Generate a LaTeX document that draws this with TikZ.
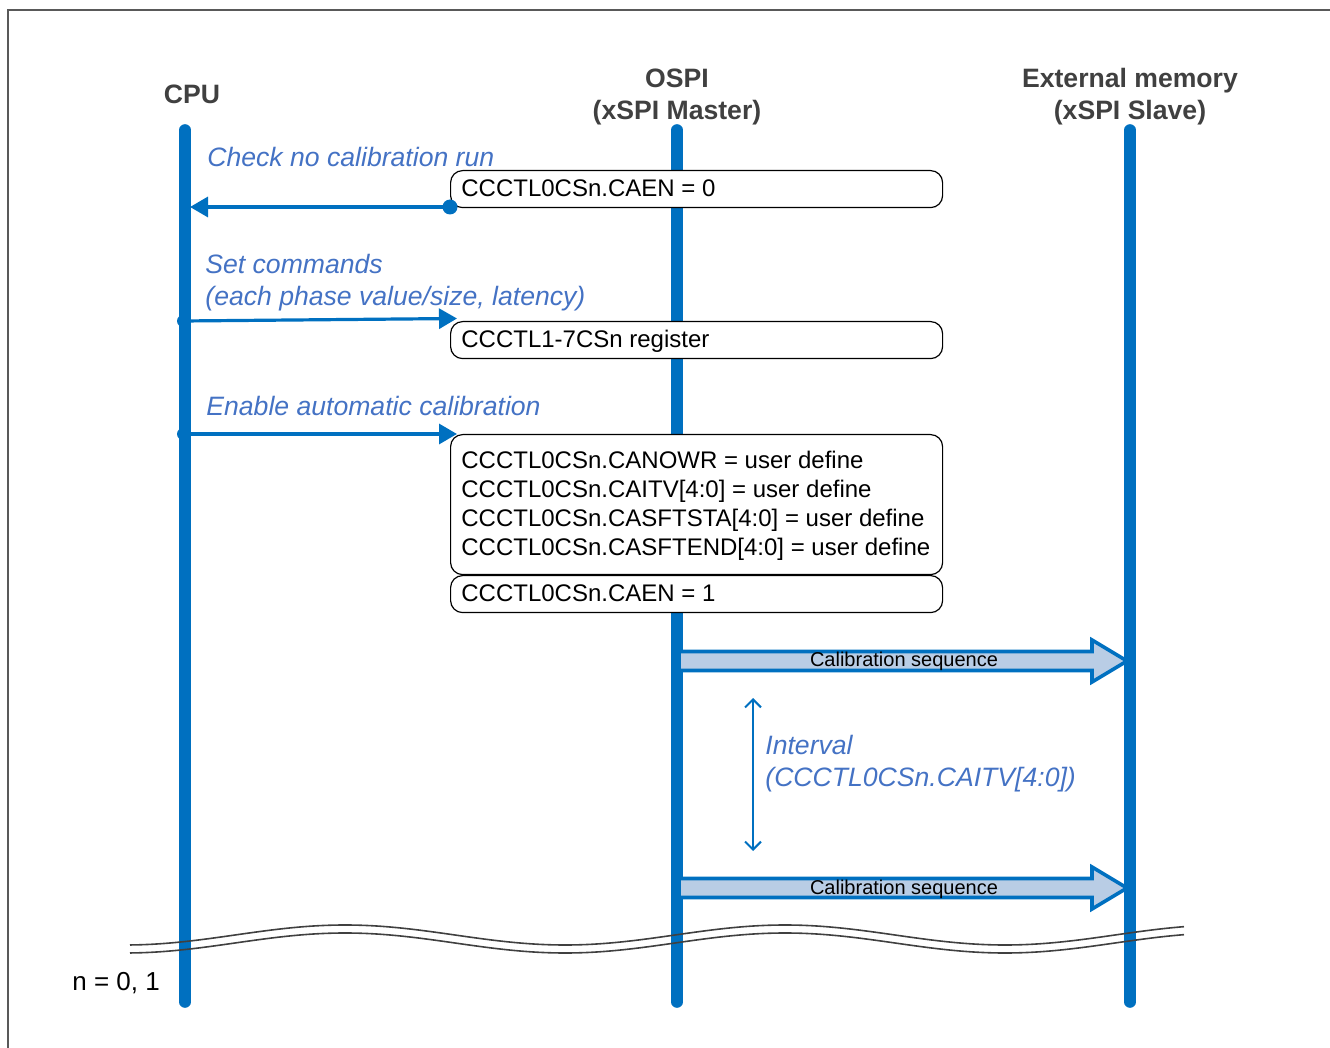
\documentclass[tikz,border=0pt]{standalone}
\usepackage{fontspec}
\setmainfont{Liberation Sans}
\usetikzlibrary{arrows.meta}
\definecolor{lifeblue}{HTML}{0070C0}
\definecolor{labblue}{HTML}{4472C4}
\definecolor{calfill}{HTML}{B9CDE5}
\definecolor{titlegray}{HTML}{404040}
\definecolor{framegray}{HTML}{595959}
\begin{document}
\begin{tikzpicture}[x=0.5pt,y=-0.5pt,
  lifeline/.style={draw=lifeblue, line width=5.8pt, line cap=round},
  regbox/.style={draw=black, line width=0.6pt, rounded corners=6pt, fill=white, anchor=north west, inner sep=0pt, minimum width=246pt},
  boxtext/.style={anchor=base west, inner sep=0pt, font=\fontsize{12}{14}\selectfont},
  titletext/.style={anchor=base, inner sep=0pt, font=\fontsize{13.3}{16}\selectfont\bfseries, text=titlegray},
  msgtext/.style={anchor=base west, inner sep=0pt, font=\fontsize{13.3}{16}\selectfont\itshape, text=labblue},
  msgarrow/.style={draw=lifeblue, line width=1.6pt, -{Triangle[length=9pt,width=10pt]}},
  calarrow/.style={draw=lifeblue, line width=1.8pt, fill=calfill, line join=miter},
  caltext/.style={anchor=base, inner sep=0pt, font=\fontsize{10}{12}\selectfont},
  breakline/.style={draw=titlegray, line width=0.8pt},
  dotmark/.style={fill=lifeblue}
]
\useasboundingbox (0,0) rectangle (1330,1048);
% frame
\draw[framegray, line width=0.8pt] (8,1048) -- (8,10) -- (1330,10);

% lifelines
\coordinate (cpuT) at (185,130);
\coordinate (cpuB) at (185,1002);
\coordinate (ospiT) at (677,130);
\coordinate (ospiB) at (677,1002);
\coordinate (extT) at (1130,130);
\coordinate (extB) at (1130,1002);
\draw[lifeline] (cpuT) -- (cpuB);
\draw[lifeline] (ospiT) -- (ospiB);
\draw[lifeline] (extT) -- (extB);

% titles
\node[titletext] (tcpu) at (192,103.5) {CPU};
\node[titletext] (tospi1) at (677,87.5) {OSPI};
\node[titletext] (tospi2) at (677,119.5) {(xSPI Master)};
\node[titletext] (text1) at (1130,87.5) {External memory};
\node[titletext] (text2) at (1130,119.5) {(xSPI Slave)};

% register boxes
\node[regbox, minimum height=18.5pt] (b1) at (450,170) {};
\node[regbox, minimum height=18.5pt] (b2) at (450,321) {};
\node[regbox, minimum height=70pt] (b3) at (450,434) {};
\node[regbox, minimum height=18.5pt] (b4) at (450,575) {};

\node[boxtext] (b1t) at (461,196.6) {CCCTL0CSn.CAEN = 0};
\node[boxtext] (b2t) at (461,347.6) {CCCTL1-7CSn register};
\node[boxtext] (b3t1) at (461,468.6) {CCCTL0CSn.CANOWR = user define};
\node[boxtext] (b3t2) at (461,497.6) {CCCTL0CSn.CAITV[4:0] = user define};
\node[boxtext] (b3t3) at (461,526.6) {CCCTL0CSn.CASFTSTA[4:0] = user define};
\node[boxtext] (b3t4) at (461,555.6) {CCCTL0CSn.CASFTEND[4:0] = user define};
\node[boxtext] (b4t) at (461,601.6) {CCCTL0CSn.CAEN = 1};

% messages
\coordinate (m1s) at (450,207);
\coordinate (m1e) at (190,207);
\fill[dotmark] (m1s) circle (7.5);
\draw[msgarrow] (m1s) -- (m1e);
\node[msgtext] (m1l) at (207,166.5) {Check no calibration run};

\coordinate (m2s) at (183,321);
\coordinate (m2e) at (457,318.5);
\fill[dotmark] (m2s) circle (6);
\draw[msgarrow] (m2s) -- (m2e);
\node[msgtext] (m2l1) at (205,273.5) {Set commands};
\node[msgtext] (m2l2) at (205,305.5) {(each phase value/size, latency)};

\coordinate (m3s) at (183,434);
\coordinate (m3e) at (457,434);
\fill[dotmark] (m3s) circle (6);
\draw[msgarrow] (m3s) -- (m3e);
\node[msgtext] (m3l) at (206,415.5) {Enable automatic calibration};

% calibration sequences
\draw[calarrow] (679,651.5) -- (1092,651.5) -- (1092,640) -- (1127,661) -- (1092,682) -- (1092,670.5) -- (679,670.5) -- cycle;
\node[caltext] (c1t) at (904,667) {Calibration sequence};
\draw[calarrow] (679,878.5) -- (1092,878.5) -- (1092,867) -- (1127,888) -- (1092,909) -- (1092,897.5) -- (679,897.5) -- cycle;
\node[caltext] (c2t) at (904,894) {Calibration sequence};

% interval
\coordinate (iv1) at (753,698);
\coordinate (iv2) at (753,851);
\draw[lifeblue, line width=1pt, {Straight Barb[length=4pt,width=8pt]}-{Straight Barb[length=4pt,width=8pt]}] (iv1) -- (iv2);
\node[msgtext] (ivl1) at (765,754.5) {Interval};
\node[msgtext] (ivl2) at (765,786.5) {(CCCTL0CSn.CAITV[4:0])};

% break lines
\draw[breakline, domain=130:1184, samples=120, smooth] plot (\x,{935+10*cos(0.8181818*(\x-125))});
\draw[breakline, domain=130:1184, samples=120, smooth] plot (\x,{943+10*cos(0.8181818*(\x-125))});

\node[anchor=base west, inner sep=0pt, font=\fontsize{13}{15}\selectfont] (nlab) at (72,990) {n = 0, 1};
\end{tikzpicture}
\end{document}
